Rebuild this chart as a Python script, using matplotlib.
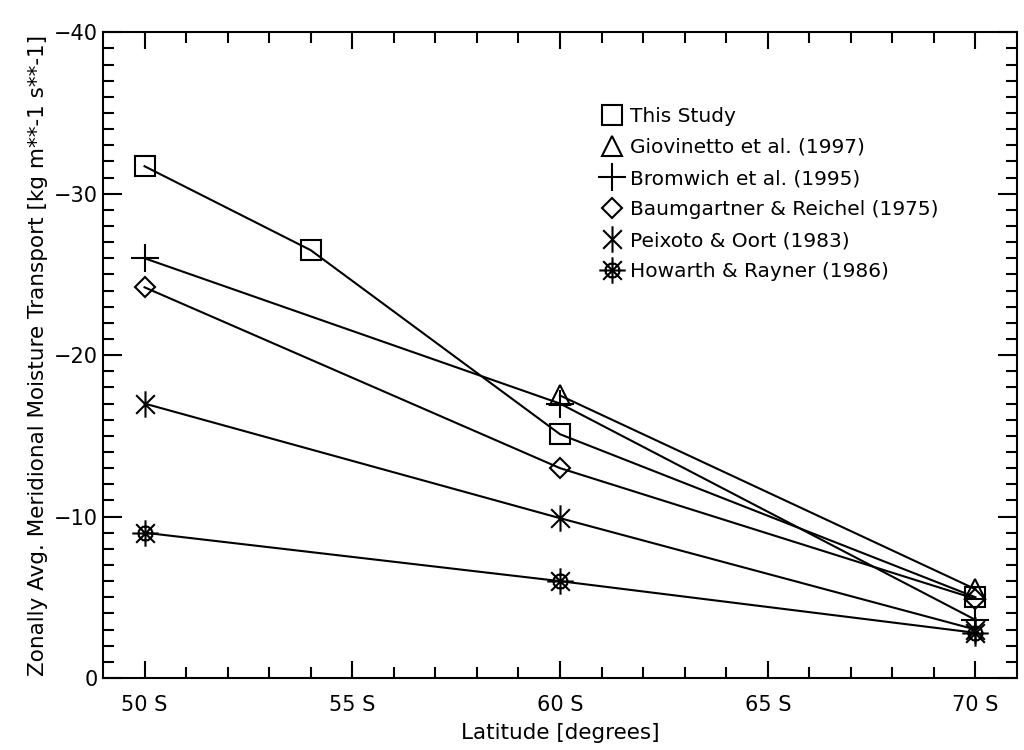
import numpy as np
import matplotlib
matplotlib.use("Agg")
import matplotlib.pyplot as plt
from matplotlib.path import Path
from matplotlib.lines import Line2D

## Values (latitude in degrees south, transport in kg m**-1 s**-1)
this_lat = [50, 54, 60, 70]
this_val = [-31.7, -26.5, -15.1, -5.0]

giov_lat = [60, 70]
giov_val = [-17.5, -5.5]

brom_lat = [50, 60, 70]
brom_val = [-26.0, -17.0, -3.6]

baum_lat = [50, 60, 70]
baum_val = [-24.2, -13.0, -4.9]

peix_lat = [50, 60, 70]
peix_val = [-17.0, -9.9, -3.0]

howa_lat = [50, 60, 70]
howa_val = [-9.0, -6.0, -2.8]

labels = ["This Study", "Giovinetto et al. (1997)", "Bromwich et al. (1995)",
          "Baumgartner & Reichel (1975)", "Peixoto & Oort (1983)", "Howarth & Rayner (1986)"]

x_ticks = [50, 55, 60, 65, 70]
x_ticklabels = ["50 S", "55 S", "60 S", "65 S", "70 S"]
y_ticks = [0, -10, -20, -30, -40]

## IDL style asterisk: vertical line plus an X
def star_path(ring=False):
    d = 0.7071
    verts = [(0, -1), (0, 1), (-d, -d), (d, d), (-d, d), (d, -d)]
    codes = [Path.MOVETO, Path.LINETO] * 3
    if ring:
        verts += [(-1, 0), (1, 0)]
        codes += [Path.MOVETO, Path.LINETO]
        ang = np.linspace(0, 2 * np.pi, 9)
        r = 0.55
        for i, a in enumerate(ang):
            verts.append((r * np.cos(a + np.pi / 8), r * np.sin(a + np.pi / 8)))
            codes.append(Path.MOVETO if i == 0 else Path.LINETO)
    return Path(verts, codes)

ast = star_path()
ast2 = star_path(ring=True)

series = [
    (this_lat, this_val, "s", 14, "none"),
    (giov_lat, giov_val, "^", 14, "none"),
    (brom_lat, brom_val, "+", 20, "none"),
    (baum_lat, baum_val, "D", 10, "none"),
    (peix_lat, peix_val, ast, 19, "none"),
    (howa_lat, howa_val, ast2, 19, "none"),
]

fig = plt.figure(figsize=(10.24, 7.5), dpi=100)
ax = fig.add_axes([0.1006, 0.096, 0.8926, 0.861])

handles = []
for (lat, val, mk, ms, fc), lab in zip(series, labels):
    ax.plot(lat, val, color="black", lw=1.5, marker=mk, markersize=ms,
            markerfacecolor=fc, markeredgecolor="black", markeredgewidth=1.5)
    handles.append(Line2D([], [], color="black", linestyle="none", marker=mk,
                          markersize=ms, markerfacecolor=fc, markeredgewidth=1.5))

ax.set_xlim(49, 71)
ax.set_ylim(0, -40)
ax.set_xticks(x_ticks)
ax.set_xticklabels(x_ticklabels)
ax.set_yticks(y_ticks)
ax.set_xticks(np.arange(50, 71, 1), minor=True)
ax.set_yticks(np.arange(0, -40, -1), minor=True)

ax.tick_params(which="both", direction="in", top=True, right=True, width=1.5,
               labelsize=15)
ax.tick_params(axis="y", which="major", length=14, pad=4)
ax.tick_params(axis="y", which="minor", length=8)
ax.tick_params(axis="x", which="major", length=12, pad=12)
ax.tick_params(axis="x", which="minor", length=8)
for sp in ax.spines.values():
    sp.set_linewidth(1.5)

ax.set_xlabel("Latitude [degrees]", fontsize=15.5, labelpad=6)
ax.set_ylabel("Zonally Avg. Meridional Moisture Transport [kg m**-1 s**-1]",
              fontsize=15.5, labelpad=4)

ax.legend(handles, labels, loc="upper left", bbox_to_anchor=(0.535, 0.9),
          frameon=False, fontsize=14.5, handlelength=1.0, handletextpad=0.4,
          labelspacing=0.6, borderpad=0)

plt.savefig("out.png", dpi=100)
